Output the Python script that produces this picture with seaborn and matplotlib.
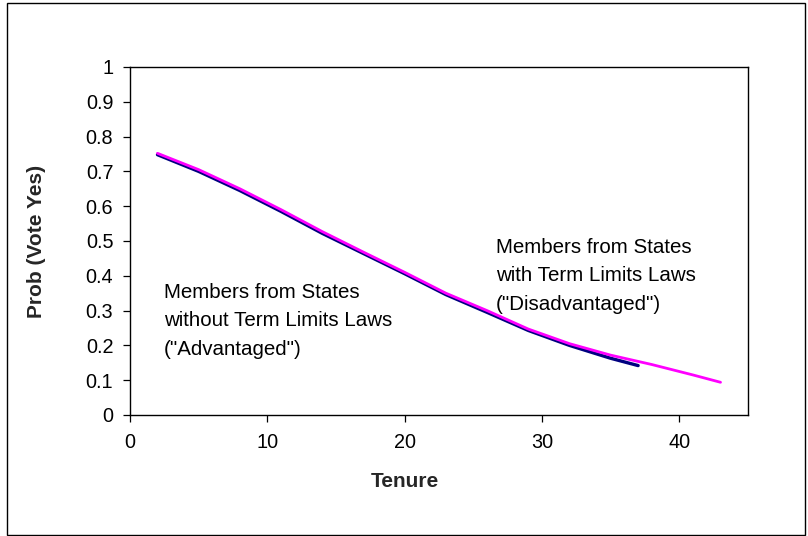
import matplotlib
matplotlib.use("Agg")
import matplotlib.pyplot as plt
from matplotlib.patches import Rectangle
import pandas as pd
import seaborn as sns

# Predicted probability of a "yes" vote by tenure
tenure_without = [2, 5, 8, 11, 14, 17, 20, 23, 26, 29, 32, 35, 37]
prob_without = [0.748, 0.700, 0.645, 0.585, 0.522, 0.464, 0.406, 0.346, 0.295, 0.243, 0.200, 0.163, 0.142]

tenure_with = [2, 5, 8, 11, 14, 17, 20, 23, 26, 29, 32, 35, 38, 41, 43]
prob_with = [0.752, 0.705, 0.650, 0.590, 0.527, 0.468, 0.410, 0.350, 0.300, 0.247, 0.205, 0.172, 0.145, 0.115, 0.094]

x_ticks = [0, 10, 20, 30, 40]
y_ticks = [0, 0.1, 0.2, 0.3, 0.4, 0.5, 0.6, 0.7, 0.8, 0.9, 1]
y_tick_labels = ["0", "0.1", "0.2", "0.3", "0.4", "0.5", "0.6", "0.7", "0.8", "0.9", "1"]

label_without = 'Members from States\nwithout Term Limits Laws\n("Advantaged")'
label_with = 'Members from States\nwith Term Limits Laws\n("Disadvantaged")'

sns.set_theme(style="ticks")
plt.rcParams["font.family"] = ["Liberation Sans", "DejaVu Sans"]

df_without = pd.DataFrame({"Tenure": tenure_without, "Prob": prob_without})
df_with = pd.DataFrame({"Tenure": tenure_with, "Prob": prob_with})

fig = plt.figure(figsize=(8.08, 5.36), dpi=100)
fig.patch.set_facecolor("white")
ax = fig.add_axes([130 / 808, 1 - 415 / 536, (748 - 130) / 808, (415 - 67) / 536])

sns.lineplot(data=df_without, x="Tenure", y="Prob", ax=ax, color="#000080",
             linewidth=2.4, estimator=None, sort=False, zorder=3)
sns.lineplot(data=df_with, x="Tenure", y="Prob", ax=ax, color="#FF00FF",
             linewidth=2.0, estimator=None, sort=False, zorder=4)

ax.set_xlim(0, 45)
ax.set_ylim(0, 1)
ax.set_xticks(x_ticks)
ax.set_xticklabels([str(t) for t in x_ticks])
ax.set_yticks(y_ticks)
ax.set_yticklabels(y_tick_labels)
ax.tick_params(axis="both", direction="out", length=5, width=0.9, color="black",
               labelsize=14.3, labelcolor="black")
ax.tick_params(axis="y", pad=7)
ax.tick_params(axis="x", pad=8)

for side in ["left", "right", "top", "bottom"]:
    ax.spines[side].set_visible(True)
    ax.spines[side].set_color("black")
    ax.spines[side].set_linewidth(1.0)

ax.set_xlabel("Tenure", fontsize=15, fontweight="bold")
ax.set_ylabel("Prob (Vote Yes)", fontsize=15, fontweight="bold")
ax.xaxis.set_label_coords(0.445, -0.165)
ax.yaxis.set_label_coords(-0.136, 0.5)

ax.text(2.48, 0.380, label_without, fontsize=14.8, va="top", ha="left",
        linespacing=1.64, color="black")
ax.text(26.65, 0.510, label_with, fontsize=14.8, va="top", ha="left",
        linespacing=1.64, color="black")

# Outer frame around the whole chart
fig.patches.append(Rectangle((7 / 808, 1 / 536), 798 / 808, 532 / 536,
                             transform=fig.transFigure, fill=False,
                             edgecolor="black", linewidth=1.0))

fig.savefig("out.png", dpi=100, facecolor="white")
